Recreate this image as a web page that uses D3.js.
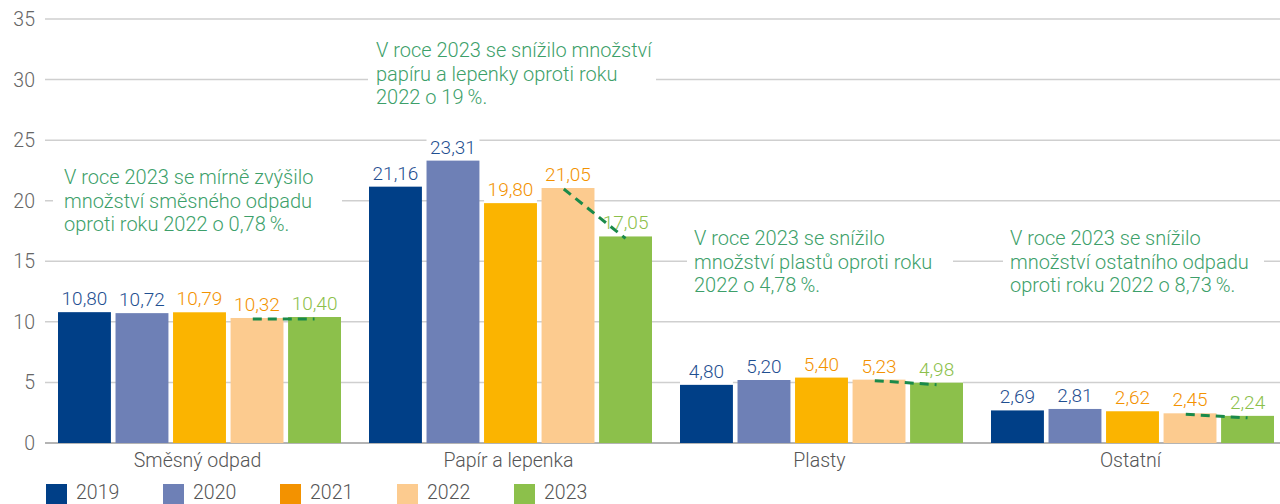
<!DOCTYPE html>
<html>
<head>
<meta charset="utf-8">
<script src="https://cdn.jsdelivr.net/npm/d3@7"></script>
<style>
  html, body { margin: 0; padding: 0; background: #fff; }
  svg { display: block; font-family: Roboto, "Liberation Sans", Arial, sans-serif; font-weight: 300; }
</style>
</head>
<body>
<div id="chart"></div>
<script>
  // Data
  var categories = ["Směsný odpad", "Papír a lepenka", "Plasty", "Ostatní"];
  var years = ["2019", "2020", "2021", "2022", "2023"];
  var values2019 = [10.80, 21.16, 4.80, 2.69];
  var values2020 = [10.72, 23.31, 5.20, 2.81];
  var values2021 = [10.79, 19.80, 5.40, 2.62];
  var values2022 = [10.32, 21.05, 5.23, 2.45];
  var values2023 = [10.40, 17.05, 4.98, 2.24];
  var yTicks = [0, 5, 10, 15, 20, 25, 30, 35];
  var notes = [
    ["V roce 2023 se mírně zvýšilo", "množství směsného odpadu", "oproti roku 2022 o 0,78\u2009%."],
    ["V roce 2023 se snížilo množství", "papíru a lepenky oproti roku", "2022 o 19\u2009%."],
    ["V roce 2023 se snížilo", "množství plastů oproti roku", "2022 o 4,78\u2009%."],
    ["V roce 2023 se snížilo", "množství ostatního odpadu", "oproti roku 2022 o 8,73\u2009%."]
  ];

  var series = [values2019, values2020, values2021, values2022, values2023];

  var barColors = ["#003f87", "#6e80b6", "#fbb400", "#fccb8f", "#8cc04b"];
  var legendColors = ["#003f87", "#6e80b6", "#f39200", "#fccb8f", "#8cc04b"];
  var labelColors = ["#1f4f91", "#1f4f91", "#f39200", "#f39200", "#8cc04b"];
  var noteColor = "#3d9f6a";

  // note frames: [left, top, right, bottom], text x, first baseline
  var noteFrames = [
    { box: [53, 155, 342, 240], x: 64, y: 184 },
    { box: [368, 30, 656, 110], x: 376, y: 57 },
    { box: [687, 222, 953, 300], x: 694, y: 245 },
    { box: [1003, 222, 1264, 300], x: 1010, y: 245 }
  ];

  var width = 1280, height = 504;
  var plotLeft = 45;

  var svg = d3.select("#chart").append("svg")
    .attr("width", width)
    .attr("height", height);

  var y = d3.scaleLinear().domain([0, 35]).range([443, 19]);

  var x0 = d3.scaleBand().domain(categories).range([44, 1288]).padding(0);
  var x1 = d3.scaleBand().domain(years).range([14, 297]).paddingInner(0.08).paddingOuter(0);
  var bw = x1.bandwidth();

  // Grid
  var grid = svg.append("g").attr("class", "grid");
  grid.selectAll("line")
    .data(yTicks)
    .enter().append("line")
    .attr("x1", plotLeft)
    .attr("x2", width)
    .attr("y1", function(d) { return y(d); })
    .attr("y2", function(d) { return y(d); })
    .attr("stroke", function(d) { return d === 0 ? "#b4b4b4" : "#cfcfcf"; })
    .attr("stroke-width", function(d) { return d === 0 ? 2 : 1.5; });

  svg.append("g").selectAll("text")
    .data(yTicks)
    .enter().append("text")
    .attr("x", 35)
    .attr("y", function(d) { return y(d) + 7; })
    .attr("text-anchor", "end")
    .attr("font-size", 19.5)
    .attr("fill", "#666")
    .text(function(d) { return d; });

  // Notes with white frames over the grid
  var noteG = svg.append("g").attr("class", "notes");
  notes.forEach(function(lines, i) {
    var f = noteFrames[i];
    noteG.append("rect")
      .attr("x", f.box[0])
      .attr("y", f.box[1])
      .attr("width", f.box[2] - f.box[0])
      .attr("height", f.box[3] - f.box[1])
      .attr("fill", "#fff");
    noteG.append("text")
      .attr("fill", noteColor)
      .attr("font-size", 20)
      .selectAll("tspan")
      .data(lines)
      .enter().append("tspan")
      .attr("x", f.x)
      .attr("y", function(d, j) { return f.y + j * 23.5; })
      .text(function(d) { return d; });
  });

  // Scenes, one per bar
  var scenes = [];
  categories.forEach(function(c, ci) {
    years.forEach(function(yr, si) {
      scenes.push({ category: c, year: yr, series: si, value: series[si][ci] });
    });
  });

  var barX = function(d) { return x0(d.category) + x1(d.year); };
  var fmt = function(v) { return v.toFixed(2).replace(".", ","); };

  // white label backgrounds
  svg.append("g").selectAll("rect")
    .data(scenes)
    .enter().append("rect")
    .attr("x", barX)
    .attr("y", function(d) { return y(d.value) - 24; })
    .attr("width", bw)
    .attr("height", 24)
    .attr("fill", "#fff");

  svg.append("g").attr("class", "bars").selectAll("rect")
    .data(scenes)
    .enter().append("rect")
    .attr("x", barX)
    .attr("y", function(d) { return y(d.value); })
    .attr("width", bw)
    .attr("height", function(d) { return y(0) - y(d.value); })
    .attr("fill", function(d) { return barColors[d.series]; });

  svg.append("g").attr("class", "labels").selectAll("text")
    .data(scenes)
    .enter().append("text")
    .attr("x", function(d) { return barX(d) + bw / 2; })
    .attr("y", function(d) { return y(d.value) - 7; })
    .attr("text-anchor", "middle")
    .attr("font-size", 19)
    .attr("fill", function(d) { return labelColors[d.series]; })
    .text(function(d) { return fmt(d.value); });

  // Dashed trend 2022 -> 2023
  svg.append("g").selectAll("line")
    .data(categories)
    .enter().append("line")
    .attr("x1", function(c) { return x0(c) + x1("2022") + bw * 0.42; })
    .attr("y1", function(c, i) { return y(values2022[i]) + 1; })
    .attr("x2", function(c) { return x0(c) + x1("2023") + bw * 0.5; })
    .attr("y2", function(c, i) { return y(values2023[i]) + 2; })
    .attr("stroke", "#1a8a4a")
    .attr("stroke-width", 3)
    .attr("stroke-dasharray", "9,6");

  // Category axis
  svg.append("g").selectAll("text")
    .data(categories)
    .enter().append("text")
    .attr("x", function(c) { return x0(c) + x0.bandwidth() / 2 - 2; })
    .attr("y", 467)
    .attr("text-anchor", "middle")
    .attr("font-size", 19.5)
    .attr("fill", "#555")
    .text(function(c) { return c; });

  // Legend
  var legend = svg.append("g").attr("class", "legend").selectAll("g")
    .data(years)
    .enter().append("g")
    .attr("transform", function(d, i) { return "translate(" + (46 + i * 117) + ",484)"; });

  legend.append("rect")
    .attr("width", 21)
    .attr("height", 20)
    .attr("fill", function(d, i) { return legendColors[i]; });

  legend.append("text")
    .attr("x", 30)
    .attr("y", 15)
    .attr("font-size", 19.5)
    .attr("fill", "#555")
    .text(function(d) { return d; });
</script>
</body>
</html>
